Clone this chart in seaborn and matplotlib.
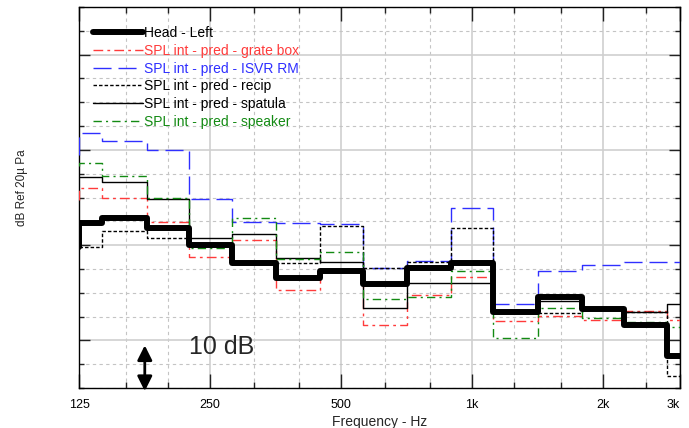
"""
plot.py
-------
1/3 octave SPL comparison: measured head (left) vs. predictions
from the different intensity set-ups. Saves out.png.
"""

import numpy as np
import pandas as pd
import matplotlib.pyplot as plt
import seaborn as sns
from matplotlib.ticker import FixedLocator, MultipleLocator, NullFormatter

sns.set_theme(style="white")
plt.rcParams["font.family"] = ["Liberation Sans", "DejaVu Sans"]

# 1/3 octave band centres (Hz)
band_centres = [125, 160, 200, 250, 315, 400, 500, 630, 800, 1000,
                1250, 1600, 2000, 2500, 3150]

# band levels, dB (offset is arbitrary, grid = 5 dB)
head_left = [64.7, 65.7, 63.6, 60.0, 56.2, 53.0, 54.6, 51.9, 55.3, 56.3,
             45.9, 49.2, 46.5, 43.2, 36.8]
grate_box = [71.9, 70.0, 64.9, 57.6, 61.0, 50.5, 54.5, 43.2, 49.6, 53.3,
             44.1, 45.2, 44.2, 46.2, 44.3]
isvr_rm = [83.6, 81.8, 79.9, 69.6, 64.9, 64.6, 64.5, 55.3, 56.6, 67.9,
           47.7, 54.5, 55.8, 56.4, 56.4]
recip = [59.6, 63.0, 61.4, 60.2, 56.4, 56.3, 64.0, 55.3, 56.4, 63.5,
         45.7, 45.7, 46.5, 45.9, 32.6]
spatula = [74.3, 73.3, 69.6, 61.4, 62.3, 57.2, 56.5, 46.7, 52.1, 52.1,
           46.3, 48.3, 46.5, 45.9, 47.7]
speaker = [77.3, 74.5, 70.0, 59.5, 65.6, 57.0, 58.6, 48.6, 49.2, 54.5,
           40.5, 46.8, 44.6, 43.8, 42.9]

# level of the band below 125 Hz (only its step at the left edge shows)
entry_levels = [59.6, 69.4, 78.9, 59.6, 74.3, 76.6]

labels = ["Head - Left", "SPL int - pred - grate box", "SPL int - pred - ISVR RM",
          "SPL int - pred - recip", "SPL int - pred - spatula",
          "SPL int - pred - speaker"]
colors = ["black", "#ff3b3b", "#2f2fff", "black", "black", "#138a13"]
styles = ["-", (0, (7, 3, 2, 3)), (0, (13, 5)), (0, (2.5, 1.5)), "-",
          (0, (6, 3, 1.5, 3))]
widths = [4.3, 1.0, 1.0, 1.0, 1.0, 1.0]

x_major = [125, 250, 500, 1000, 2000, 3000]
x_major_labels = ["125", "250", "500", "1k", "2k", "3k"]
x_minor = [160, 200, 315, 400, 630, 800, 1250, 1600, 2500]


def step_frame(levels, entry):
    c = np.array(band_centres, dtype=float)
    edges = np.sqrt(c[:-1] * c[1:])
    x = np.concatenate([[c[0], c[0]], edges, [c[-1] * 2 ** (1 / 6)]])
    y = np.concatenate([[entry], levels, [levels[-1]]])
    return pd.DataFrame({"Frequency": x, "Level": y})


def draw():
    fig = plt.figure(figsize=(6.89, 4.28), dpi=100)
    ax = fig.add_axes([79 / 689, 1 - 388 / 428, 601 / 689, 381 / 428])

    series = [head_left, grate_box, isvr_rm, recip, spatula, speaker]
    # draw thin lines first, head on top
    order = [1, 2, 3, 4, 5, 0]
    lines = {}
    for i in order:
        df = step_frame(series[i], entry_levels[i])
        sns.lineplot(data=df, x="Frequency", y="Level", ax=ax, estimator=None,
                     sort=False, drawstyle="steps-post", color=colors[i],
                     linewidth=widths[i], linestyle=styles[i], label=labels[i],
                     zorder=5 if i == 0 else 4)
        lines[i] = ax.get_lines()[-1]

    ax.set_xscale("log")
    ax.set_xlim(125, 3000)
    ax.set_ylim(30, 110)

    ax.xaxis.set_major_locator(FixedLocator(x_major))
    ax.set_xticklabels(x_major_labels)
    ax.xaxis.set_minor_locator(FixedLocator(x_minor))
    ax.xaxis.set_minor_formatter(NullFormatter())
    ax.yaxis.set_major_locator(MultipleLocator(20))
    ax.yaxis.set_minor_locator(MultipleLocator(5))
    ax.yaxis.set_major_formatter(NullFormatter())
    ax.get_xticklabels()[-1].set_horizontalalignment("right")

    ax.tick_params(axis="both", which="both", direction="in", colors="#222222",
                   top=True, right=True, left=True, bottom=True, width=1)
    ax.tick_params(axis="x", which="major", length=10, pad=8, labelsize=9,
                   labelcolor="black")
    ax.tick_params(axis="x", which="minor", length=4.5)
    ax.tick_params(axis="y", which="major", length=8)
    ax.tick_params(axis="y", which="minor", length=3.5)

    ax.grid(which="major", color="#cfcfcf", linewidth=1.2, linestyle="-", zorder=0)
    ax.grid(which="minor", color="#c4c4c4", linewidth=0.8,
            linestyle=(0, (3, 3)), zorder=0)
    ax.set_axisbelow(True)
    for sp in ax.spines.values():
        sp.set_color("black")
        sp.set_linewidth(1)

    ax.set_xlabel("Frequency - Hz", fontsize=10, labelpad=3)
    ax.set_ylabel("dB Ref 20\u00b5 Pa", fontsize=8.5)
    ax.yaxis.set_label_coords(-0.085, 0.525)

    # 10 dB scale marker
    ax.annotate("", xy=(177, 29.35), xytext=(177, 38.95),
                arrowprops=dict(arrowstyle="<|-|>", color="black", lw=2,
                                mutation_scale=22, shrinkA=0, shrinkB=0),
                annotation_clip=False, zorder=6)
    ax.text(224, 38.7, "10 dB", fontsize=18, ha="left", va="center")

    handles = [lines[i] for i in range(6)]
    leg = ax.legend(handles, labels, loc="upper left",
                    bbox_to_anchor=(14 / 601, 0.950), frameon=False,
                    fontsize=10, handlelength=3.6, handletextpad=0.05,
                    labelspacing=0.27, borderpad=0, borderaxespad=0)
    for txt, col in zip(leg.get_texts(), colors):
        txt.set_color(col)

    fig.savefig("out.png", dpi=100)
    plt.close(fig)


if __name__ == "__main__":
    draw()
